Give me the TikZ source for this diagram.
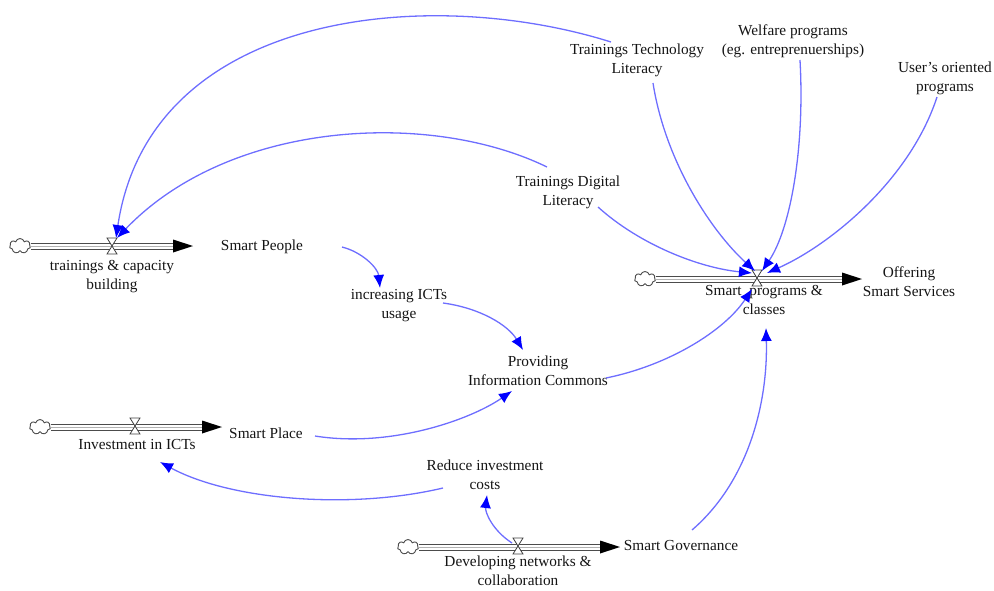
\documentclass[tikz,border=0pt]{standalone}
\usepackage{fontspec}
\setmainfont{Liberation Serif}
\usetikzlibrary{arrows.meta,calc,shapes.symbols}
\definecolor{linkblue}{RGB}{110,110,255}
\definecolor{headblue}{RGB}{0,0,255}
\definecolor{txt}{RGB}{20,20,20}
\begin{document}
\begin{tikzpicture}[x=1pt,y=-1pt,
  lbl/.style={font=\fontsize{15.3}{19}\selectfont, text=txt, align=center, inner sep=1pt},
  link/.style={draw=linkblue, line width=1.3pt, -{Latex[length=13pt,width=11pt,color=headblue]}},
  pipe/.style={draw=black!70, line width=1pt, double=white, double distance=5pt, shorten >=17pt},
  pipemid/.style={draw=black!30, line width=0.8pt, shorten >=17pt},
  cloudn/.style={cloud, cloud puffs=7, draw=black!70, line width=0.9pt, fill=white, minimum width=21pt, minimum height=15pt, inner sep=0pt},
  pics/hourglass/.style={code={
    \draw[black!75, line width=0.8pt, fill=white] (-5,-9) -- (5,-9) -- (-5,7) -- (5,7) -- cycle;
  }},
  tiphead/.style={fill=black}
]
\useasboundingbox (0,0) rectangle (994,590);

% ---- flow coordinates
\coordinate (t1) at (193,247);
\coordinate (t2) at (222,427);
\coordinate (t3) at (620,547);
\coordinate (t4) at (862,279);
\coordinate (v1) at (112,247);
\coordinate (v2) at (135,427);
\coordinate (v3) at (518,547);
\coordinate (v4) at (757,279);

\node[cloudn] (c1) at (20,246) {};
\node[cloudn] (c2) at (40,427) {};
\node[cloudn] (c3) at (408,547) {};
\node[cloudn] (c4) at (645,279) {};

% ---- pipes
\foreach \c/\t in {c1/t1,c2/t2,c3/t3,c4/t4}{
  \draw[pipe] (\c.east) -- (\c.east -| \t);
  \draw[pipemid] (\c.east) -- (\c.east -| \t);
  \fill[tiphead] (\c.east -| \t) -- ++(-20,-6.5) -- ++(0,13) -- cycle;
}
\pic at (v1) {hourglass};
\pic at (v2) {hourglass};
\pic at (v3) {hourglass};
\pic at (v4) {hourglass};

% ---- labels
\node[lbl] (ttl) at (637,60) {Trainings Technology\\Literacy};
\node[lbl] (wp) at (793,41) {Welfare programs\\(eg. entreprenuerships)};
\node[lbl] (uop) at (945,78) {User’s oriented\\programs};
\node[lbl] (tdl) at (568,192) {Trainings Digital\\Literacy};
\node[lbl] (tcb) at (112,277) {trainings \& capacity\\building};
\node[lbl] (spp) at (262,247) {Smart People};
\node[lbl] (inc) at (399,306) {increasing ICTs\\usage};
\node[lbl] (pinfo) at (538,371) {Providing\\Information Commons};
\node[lbl] (spl) at (266,433) {Smart Place};
\node[lbl] (iict) at (137,445) {Investment in ICTs};
\node[lbl] (ric) at (485,475) {Reduce investment\\costs};
\node[lbl] (sg) at (681,546) {Smart Governance};
\node[lbl] (dnc) at (518,571) {Developing networks \&\\collaboration};
\node[lbl] (spc) at (764,300) {Smart\ \ programs \&\\classes};
\node[lbl] (oss) at (909,282) {Offering\\Smart Services};

% ---- links
\draw[link] ($(ttl)+(-26,-18)$) .. controls (430,-15) and (150,10) .. ($(v1)+(4,-9)$);
\draw[link] ($(tdl)+(-21,-25)$) .. controls (430,110) and (230,120) .. ($(v1)+(5,-9)$);
\draw[link] ($(tdl)+(30,15)$) .. controls (640,245) and (700,268) .. ($(v4)+(-5,-6)$);
\draw[link] ($(ttl)+(16,23)$) .. controls (665,160) and (710,230) .. ($(v4)+(-2,-8)$);
\draw[link] ($(wp)+(7,19)$) .. controls (805,150) and (790,230) .. ($(v4)+(5,-8)$);
\draw[link] ($(uop)+(-8,19)$) .. controls (910,180) and (830,245) .. ($(v4)+(10,-6)$);
\draw[link] ($(pinfo)+(68,7)$) .. controls (670,365) and (725,330) .. ($(v4)+(-5,10)$);
\draw[link] ($(sg)+(11,-16)$) .. controls (750,480) and (768,400) .. ($(spc)+(2,28)$);
\draw[link] ($(spp)+(80,0)$) .. controls (362,252) and (378,268) .. ($(inc)+(-19,-18)$);
\draw[link] ($(inc)+(44,-3)$) .. controls (480,308) and (508,325) .. ($(pinfo)+(-15,-21)$);
\draw[link] ($(spl)+(49,3)$) .. controls (390,448) and (470,420) .. ($(pinfo)+(-26,20)$);
\draw[link] ($(v3)+(-6,-4)$) .. controls (492,530) and (485,512) .. ($(ric)+(2,20)$);
\draw[link] ($(ric)+(-42,13)$) .. controls (350,510) and (230,500) .. ($(iict)+(23,17)$);
\end{tikzpicture}
\end{document}
